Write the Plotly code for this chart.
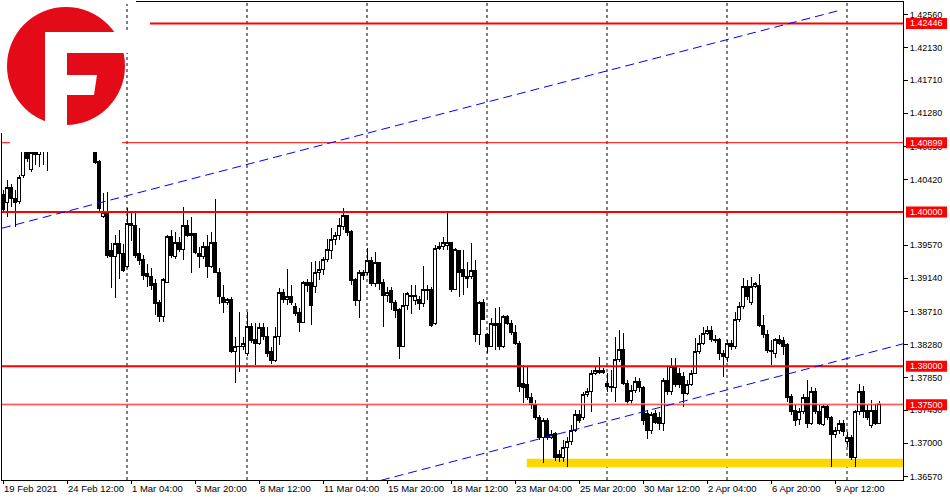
import plotly.graph_objects as go

# ---------------- data (GBP/USD, H4) ----------------
open_ = [1.4023,1.4012,1.4032,1.4017,1.4013,1.4047,1.4080,1.4055,1.4080,1.4074,
         1.4080,1.4083,1.4093,1.4125,1.4150,1.4185,1.4215,1.4160,1.4140,1.4148,
         1.4160,1.4170,1.4130,1.4095,1.4065,1.3994,1.3999,1.3950,1.3942,1.3959,
         1.3946,1.3929,1.3985,1.3983,1.3946,1.3938,1.3920,1.3917,1.3907,1.3882,
         1.3865,1.3909,1.3968,1.3942,1.3961,1.3952,1.3982,1.3972,1.3972,1.3946,
         1.3942,1.3955,1.3929,1.3961,1.3922,1.3889,1.3882,1.3886,1.3819,1.3826,
         1.3825,1.3816,1.3851,1.3834,1.3830,1.3850,1.3838,1.3819,1.3807,1.3838,
         1.3895,1.3886,1.3890,1.3877,1.3870,1.3857,1.3909,1.3908,1.3904,1.3922,
         1.3926,1.3939,1.3950,1.3964,1.3969,1.3981,1.3995,1.3975,1.3912,1.3885,
         1.3922,1.3922,1.3937,1.3907,1.3934,1.3908,1.3892,1.3898,1.3883,1.3873,
         1.3826,1.3879,1.3892,1.3885,1.3886,1.3881,1.3900,1.3900,1.3856,1.3955,
         1.3955,1.3957,1.3960,1.3900,1.3950,1.3925,1.3916,1.3916,1.3924,1.3841,
         1.3882,1.3841,1.3826,1.3853,1.3855,1.3826,1.3865,1.3856,1.3844,1.3830,
         1.3777,1.3776,1.3760,1.3750,1.3734,1.3707,1.3730,1.3708,1.3713,1.3685,
         1.3682,1.3695,1.3702,1.3717,1.3738,1.3733,1.3763,1.3767,1.3791,1.3792,
         1.3794,1.3778,1.3773,1.3773,1.3809,1.3822,1.3778,1.3755,1.3768,1.3780,
         1.3772,1.3739,1.3717,1.3739,1.3733,1.3726,1.3781,1.3767,1.3800,1.3791,
         1.3787,1.3765,1.3776,1.3791,1.3819,1.3830,1.3842,1.3846,1.3835,1.3834,
         1.3817,1.3811,1.3829,1.3825,1.3861,1.3877,1.3903,1.3882,1.3904,1.3905,
         1.3853,1.3841,1.3821,1.3817,1.3834,1.3833,1.3828,1.3761,1.3742,1.3731,
         1.3741,1.3759,1.3726,1.3767,1.3741,1.3725,1.3748,1.3733,1.3712,1.3717,
         1.3726,1.3702,1.3708,1.3681,1.3741,1.3767,1.3743,1.3723,1.3743,1.3726]

high = [1.4029,1.4042,1.4036,1.4029,1.4048,1.4082,1.4086,1.4080,1.4093,1.4087,
        1.4093,1.4106,1.4130,1.4165,1.4195,1.4243,1.4225,1.4175,1.4160,1.4170,
        1.4185,1.4178,1.4140,1.4105,1.4068,1.4025,1.4026,1.3960,1.3970,1.3977,
        1.3959,1.4005,1.3999,1.3999,1.3979,1.3944,1.3933,1.3927,1.3913,1.3886,
        1.3914,1.3970,1.3977,1.3974,1.3968,1.4007,1.3990,1.3994,1.3973,1.3955,
        1.3961,1.3970,1.3974,1.4017,1.3927,1.3905,1.3889,1.3890,1.3838,1.3870,
        1.3838,1.3870,1.3856,1.3856,1.3856,1.3856,1.3851,1.3825,1.3851,1.3901,
        1.3900,1.3926,1.3905,1.3882,1.3876,1.3911,1.3913,1.3935,1.3937,1.3937,
        1.3942,1.3965,1.3979,1.3974,1.3992,1.4005,1.3996,1.3977,1.3914,1.3925,
        1.3925,1.3953,1.3942,1.3948,1.3935,1.3913,1.3903,1.3903,1.3886,1.3876,
        1.3895,1.3896,1.3905,1.3905,1.3891,1.3930,1.3905,1.3903,1.3957,1.3961,
        1.3968,1.3999,1.3961,1.3953,1.3951,1.3951,1.3935,1.3960,1.3938,1.3885,
        1.3887,1.3843,1.3862,1.3876,1.3877,1.3866,1.3866,1.3860,1.3853,1.3833,
        1.3802,1.3799,1.3765,1.3756,1.3737,1.3733,1.3733,1.3717,1.3715,1.3691,
        1.3704,1.3708,1.3724,1.3743,1.3743,1.3767,1.3772,1.3795,1.3799,1.3812,
        1.3798,1.3791,1.3795,1.3838,1.3847,1.3843,1.3782,1.3776,1.3786,1.3785,
        1.3774,1.3743,1.3741,1.3743,1.3741,1.3785,1.3800,1.3811,1.3811,1.3798,
        1.3793,1.3782,1.3795,1.3837,1.3841,1.3851,1.3852,1.3852,1.3841,1.3837,
        1.3821,1.3834,1.3834,1.3870,1.3883,1.3914,1.3912,1.3916,1.3909,1.3920,
        1.3866,1.3847,1.3834,1.3837,1.3841,1.3838,1.3830,1.3764,1.3750,1.3746,
        1.3764,1.3782,1.3773,1.3772,1.3750,1.3750,1.3750,1.3735,1.3721,1.3730,
        1.3730,1.3715,1.3711,1.3743,1.3777,1.3774,1.3750,1.3756,1.3751,1.3755]

low = [1.3999,1.3994,1.4007,1.3981,1.4010,1.4044,1.4065,1.4052,1.4061,1.4058,
       1.4061,1.4053,1.4085,1.4115,1.4140,1.4175,1.4150,1.4100,1.4120,1.4130,
       1.4145,1.4120,1.4090,1.4062,1.4000,1.3992,1.3940,1.3901,1.3889,1.3913,
       1.3922,1.3927,1.3962,1.3940,1.3931,1.3912,1.3903,1.3899,1.3866,1.3857,
       1.3857,1.3908,1.3940,1.3939,1.3948,1.3938,1.3968,1.3921,1.3946,1.3927,
       1.3939,1.3914,1.3927,1.3921,1.3881,1.3869,1.3879,1.3817,1.3778,1.3793,
       1.3821,1.3813,1.3830,1.3802,1.3828,1.3834,1.3812,1.3803,1.3806,1.3828,
       1.3882,1.3879,1.3879,1.3865,1.3844,1.3856,1.3896,1.3853,1.3895,1.3912,
       1.3918,1.3935,1.3939,1.3957,1.3964,1.3977,1.3969,1.3905,1.3878,1.3863,
       1.3912,1.3918,1.3904,1.3903,1.3899,1.3851,1.3883,1.3873,1.3863,1.3809,
       1.3825,1.3873,1.3868,1.3879,1.3873,1.3877,1.3886,1.3851,1.3853,1.3951,
       1.3951,1.3951,1.3896,1.3899,1.3890,1.3892,1.3901,1.3913,1.3831,1.3828,
       1.3860,1.3817,1.3825,1.3821,1.3821,1.3824,1.3853,1.3841,1.3828,1.3767,
       1.3752,1.3756,1.3744,1.3730,1.3704,1.3675,1.3704,1.3706,1.3677,1.3676,
       1.3676,1.3669,1.3698,1.3715,1.3726,1.3730,1.3760,1.3741,1.3789,1.3790,
       1.3790,1.3767,1.3767,1.3754,1.3806,1.3776,1.3750,1.3751,1.3765,1.3767,
       1.3724,1.3706,1.3712,1.3725,1.3717,1.3716,1.3763,1.3763,1.3773,1.3772,
       1.3747,1.3763,1.3774,1.3790,1.3816,1.3828,1.3841,1.3831,1.3830,1.3808,
       1.3786,1.3806,1.3821,1.3822,1.3857,1.3874,1.3886,1.3879,1.3901,1.3851,
       1.3837,1.3817,1.3802,1.3811,1.3828,1.3815,1.3754,1.3737,1.3723,1.3724,
       1.3738,1.3720,1.3724,1.3738,1.3724,1.3723,1.3730,1.3669,1.3707,1.3712,
       1.3709,1.3695,1.3678,1.3669,1.3737,1.3733,1.3730,1.3720,1.3724,1.3725]

close = [1.4003,1.4032,1.4017,1.4012,1.4045,1.4080,1.4070,1.4077,1.4074,1.4080,
         1.4083,1.4093,1.4125,1.4150,1.4185,1.4215,1.4160,1.4140,1.4148,1.4160,
         1.4170,1.4130,1.4095,1.4064,1.4004,1.3999,1.3943,1.3942,1.3959,1.3946,
         1.3924,1.3985,1.3983,1.3944,1.3937,1.3918,1.3916,1.3905,1.3881,1.3865,
         1.3912,1.3968,1.3943,1.3961,1.3952,1.3982,1.3970,1.3970,1.3948,1.3942,
         1.3955,1.3929,1.3961,1.3922,1.3890,1.3882,1.3886,1.3819,1.3826,1.3825,
         1.3829,1.3851,1.3833,1.3830,1.3850,1.3838,1.3816,1.3807,1.3838,1.3895,
         1.3886,1.3890,1.3883,1.3869,1.3857,1.3909,1.3905,1.3879,1.3921,1.3926,
         1.3939,1.3951,1.3965,1.3970,1.3983,1.3995,1.3974,1.3911,1.3885,1.3922,
         1.3918,1.3937,1.3907,1.3934,1.3907,1.3892,1.3896,1.3883,1.3872,1.3826,
         1.3879,1.3894,1.3890,1.3892,1.3881,1.3900,1.3898,1.3853,1.3953,1.3953,
         1.3960,1.3960,1.3900,1.3951,1.3922,1.3916,1.3914,1.3924,1.3841,1.3882,
         1.3861,1.3826,1.3855,1.3855,1.3826,1.3865,1.3856,1.3844,1.3830,1.3774,
         1.3772,1.3760,1.3750,1.3734,1.3707,1.3730,1.3708,1.3712,1.3682,1.3682,
         1.3695,1.3702,1.3717,1.3738,1.3730,1.3763,1.3767,1.3791,1.3794,1.3794,
         1.3792,1.3774,1.3774,1.3809,1.3822,1.3778,1.3754,1.3768,1.3780,1.3772,
         1.3729,1.3717,1.3737,1.3727,1.3726,1.3781,1.3767,1.3800,1.3776,1.3776,
         1.3765,1.3776,1.3791,1.3819,1.3830,1.3842,1.3846,1.3834,1.3833,1.3817,
         1.3813,1.3829,1.3825,1.3861,1.3877,1.3903,1.3890,1.3904,1.3907,1.3853,
         1.3841,1.3820,1.3819,1.3834,1.3830,1.3826,1.3760,1.3741,1.3729,1.3741,
         1.3759,1.3726,1.3767,1.3741,1.3726,1.3748,1.3733,1.3712,1.3717,1.3726,
         1.3715,1.3708,1.3681,1.3741,1.3767,1.3741,1.3733,1.3743,1.3726,1.3752]

bar_index = list(range(len(open_)))

x_tick_index = [0, 16, 32, 48, 64, 80, 96, 112, 128, 144, 160, 176, 192, 208]
x_tick_text = ["19 Feb 2021", "24 Feb 12:00", "1 Mar 04:00", "3 Mar 20:00",
               "8 Mar 12:00", "11 Mar 04:00", "15 Mar 20:00", "18 Mar 12:00",
               "23 Mar 04:00", "25 Mar 20:00", "30 Mar 12:00", "2 Apr 04:00",
               "6 Apr 20:00", "9 Apr 12:00"]
grid_index = [31, 61, 91, 121, 151, 181, 211]

y_tick_values = [1.36570, 1.37000, 1.37430, 1.37850, 1.38280, 1.38710, 1.39140,
                 1.39570, 1.40420, 1.40850, 1.41280, 1.41710, 1.42130, 1.42560]

level_prices = [1.42446, 1.40899, 1.40000, 1.38000, 1.37500]
level_widths = [2, 1, 2, 2, 1]

upper_channel_x = [-0.25, 208.75]
upper_channel_y = [1.3979, 1.4261]
lower_channel_x = [94.5, 225.0]
lower_channel_y = [1.3652, 1.3829]

zone_start_index = 131
zone_low, zone_high = 1.3669, 1.3680

# ---------------- layout geometry ----------------
W, H = 950, 500
ML, MR, MT, MB = 2, 47, 2, 20
PW, PH = W - ML - MR, H - MT - MB
X_RANGE = [-0.25, 225.0]
Y_RANGE = [1.36524, 1.42724]
FONT = "Liberation Sans"


def pxx(x):
    return (x - ML) / PW


def pxy(y):
    return (H - MB - y) / PH


fig = go.Figure()
fig.add_trace(go.Candlestick(
    x=bar_index, open=open_, high=high, low=low, close=close,
    increasing=dict(fillcolor="white", line=dict(color="black", width=1)),
    decreasing=dict(fillcolor="black", line=dict(color="black", width=1)),
    whiskerwidth=0, showlegend=False, hoverinfo="skip",
))

shapes = []
# vertical dashed grid
for gi in grid_index:
    shapes.append(dict(type="line", xref="x", yref="paper", x0=gi, x1=gi, y0=0, y1=1,
                       line=dict(color="black", width=1, dash="3px,3px"), layer="below"))
# support zone
shapes.append(dict(type="rect", xref="x", yref="y", x0=zone_start_index - 0.05, x1=X_RANGE[1],
                   y0=zone_low, y1=zone_high, fillcolor="#FFD700", line=dict(width=0),
                   layer="below"))
# horizontal levels
for i, (lp, lw) in enumerate(zip(level_prices, level_widths)):
    x0 = pxx(150) if i == 0 else 0
    shapes.append(dict(type="line", xref="paper", yref="y", x0=x0, x1=1, y0=lp, y1=lp,
                       line=dict(color="#FF0000", width=lw), layer="above"))
shapes.append(dict(type="line", xref="paper", yref="y", x0=0, x1=1,
                   y0=level_prices[4] + 0.00013, y1=level_prices[4] + 0.00013,
                   line=dict(color="#E8B4B4", width=1), layer="above"))
# channel lines
shapes.append(dict(type="line", xref="x", yref="y", x0=upper_channel_x[0], x1=upper_channel_x[1],
                   y0=upper_channel_y[0], y1=upper_channel_y[1],
                   line=dict(color="#0000FF", width=1, dash="9px,5px"), layer="above"))
shapes.append(dict(type="line", xref="x", yref="y", x0=lower_channel_x[0], x1=lower_channel_x[1],
                   y0=lower_channel_y[0], y1=lower_channel_y[1],
                   line=dict(color="#0000FF", width=1, dash="9px,5px"), layer="above"))
# price label boxes
for lp in level_prices:
    shapes.append(dict(type="rect", xref="paper", yref="y", x0=pxx(906), x1=pxx(947),
                       ysizemode="pixel", yanchor=lp, y0=-5.5, y1=5.5,
                       fillcolor="#FF0000", line=dict(width=0), layer="above"))


# logo: white backdrop + red disc with white "F" cut-out
def poly(points):
    return "M " + " L ".join(f"{pxx(a):.5f},{pxy(b):.5f}" for a, b in points) + " Z"


shapes.append(dict(type="path", xref="paper", yref="paper",
                   path=poly([(0, 0), (136, 0), (136, 4), (122, 4), (122, 152), (10, 152),
                              (10, 133), (0, 133)]),
                   fillcolor="white", line=dict(width=0), layer="above"))
shapes.append(dict(type="circle", xref="paper", yref="paper", x0=pxx(7), x1=pxx(125),
                   y0=pxy(125), y1=pxy(7), fillcolor="#E30B17", line=dict(width=0),
                   layer="above"))
shapes.append(dict(type="path", xref="paper", yref="paper",
                   path=poly([(45, 32), (130, 32), (130, 53), (67, 53), (67, 130), (45, 130)]),
                   fillcolor="white", line=dict(width=0), layer="above"))
shapes.append(dict(type="path", xref="paper", yref="paper",
                   path=poly([(66, 75), (97, 75), (94, 95), (66, 95)]),
                   fillcolor="white", line=dict(width=0), layer="above"))

annotations = []
for lp in level_prices:
    annotations.append(dict(xref="paper", yref="y", x=pxx(926.5), y=lp, text=f"{lp:.5f}",
                            showarrow=False, xanchor="center", yanchor="middle",
                            font=dict(family=FONT, size=9, color="white")))

fig.update_layout(
    width=W, height=H, autosize=False,
    margin=dict(l=ML, r=MR, t=MT, b=MB, pad=0),
    paper_bgcolor="white", plot_bgcolor="white",
    font=dict(family=FONT, size=9, color="black"),
    shapes=shapes, annotations=annotations,
    boxgap=0.1, showlegend=False,
    xaxis=dict(range=X_RANGE, showgrid=False, zeroline=False, showline=True, mirror=True,
               linecolor="black", linewidth=1, ticks="outside", ticklen=3, tickcolor="black",
               tickvals=x_tick_index, ticktext=x_tick_text, ticklabelposition="outside right",
               tickangle=0, automargin=False,
               tickfont=dict(family=FONT, size=9.5, color="black"),
               rangeslider=dict(visible=False), fixedrange=True),
    yaxis=dict(range=Y_RANGE, side="right", showgrid=False, zeroline=False, showline=True,
               mirror=True, linecolor="black", linewidth=1, ticks="outside", ticklen=4,
               tickcolor="black", tickvals=y_tick_values, automargin=False,
               ticktext=[f"{v:.5f}" for v in y_tick_values],
               tickfont=dict(family=FONT, size=9, color="black"), fixedrange=True),
)

fig.write_html("out.html", config={"displayModeBar": False},
               post_script="document.body.style.margin='0';"
                           "document.body.style.overflow='hidden';"
                           "document.querySelectorAll('.boxlayer path')"
                           ".forEach(function(p){p.style.shapeRendering='crispEdges';});")
